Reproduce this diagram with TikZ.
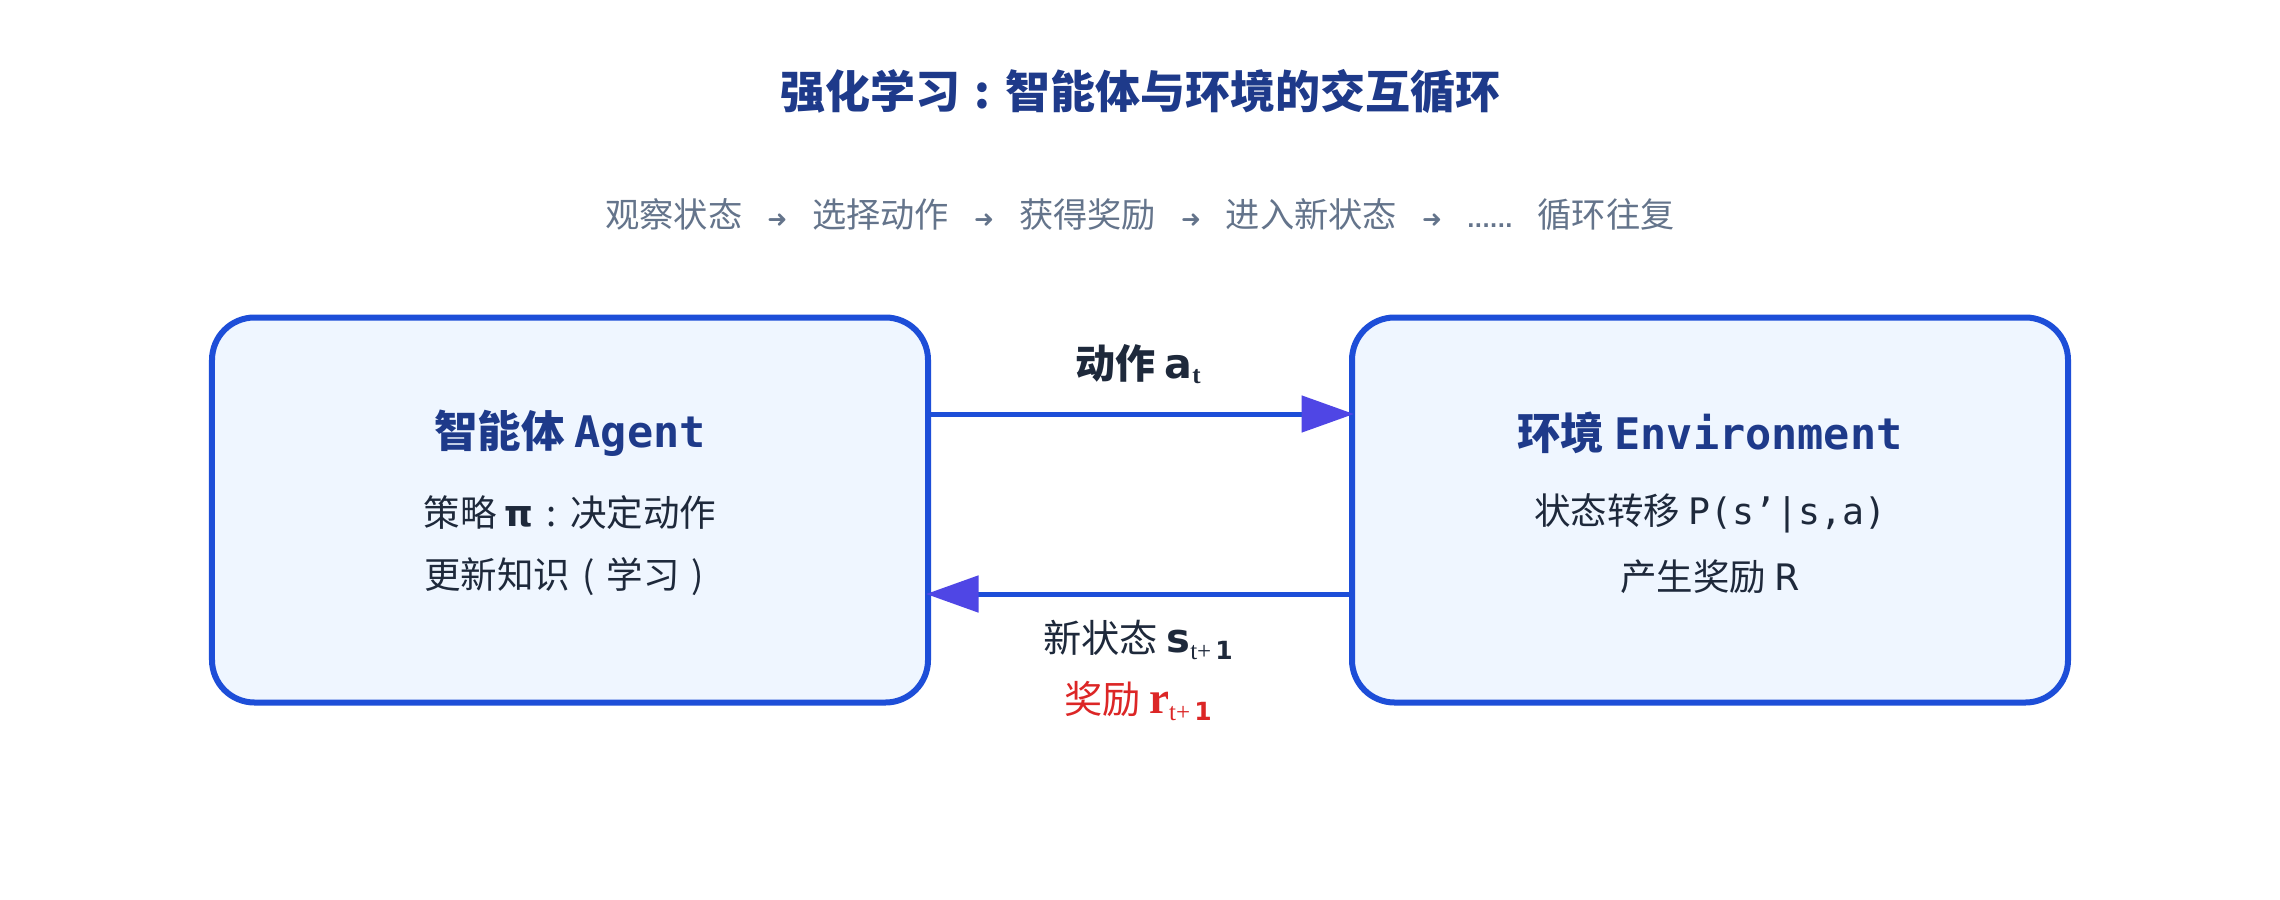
\documentclass[tikz,border=0pt]{standalone}
\usepackage{fontspec}
\setmainfont{Noto Sans CJK SC}
\newfontfamily\monof{DejaVu Sans Mono}
\newfontfamily\djv{DejaVu Sans}
\newfontfamily\serf{Liberation Serif}
\usetikzlibrary{arrows.meta}
\definecolor{boxblue}{HTML}{1D4ED8}
\definecolor{boxfill}{HTML}{EFF6FF}
\definecolor{arrind}{HTML}{4F46E5}
\definecolor{titlec}{HTML}{1E3A8A}
\definecolor{subc}{HTML}{64748B}
\definecolor{bodyc}{HTML}{1E293B}
\definecolor{redc}{HTML}{DC2626}
\newcommand{\sarr}{\hspace{10pt}{\djv\bfseries\fontsize{9.5pt}{9pt}\selectfont ➜}\hspace{10pt}}
\newcommand{\ccolon}{\makebox[1em][c]{:}}
\newcommand{\cpl}{\makebox[1em][c]{(}}
\newcommand{\cpr}{\makebox[1em][c]{)}}
\tikzset{
  mainbox/.style={draw=boxblue, fill=boxfill, line width=2.4pt, rounded corners=17pt,
    minimum width=286.4pt, minimum height=154pt, inner sep=0pt},
  boxtitle/.style={text=titlec, font=\fontsize{17.4pt}{20pt}\selectfont\bfseries, inner sep=0pt},
  bodytxt/.style={text=bodyc, font=\fontsize{14.6pt}{17pt}\selectfont, inner sep=0pt},
  lbl/.style={text=bodyc, font=\fontsize{15.3pt}{18pt}\selectfont, inner sep=0pt},
  flow/.style={draw=boxblue, line width=2pt, -{Triangle[length=21pt,width=14.4pt,color=arrind]}}
}
\begin{document}
\begin{tikzpicture}[x=0.4pt,y=-0.4pt]
\useasboundingbox (0,0) rectangle (2280,900);
\fill[white] (0,0) rectangle (2280,900);

\node[text=titlec, font=\fontsize{18pt}{22pt}\selectfont\bfseries, inner sep=0pt] (title) at (1140,92) {强化学习\ccolon 智能体与环境的交互循环};

\node[text=subc, font=\fontsize{13.7pt}{16pt}\selectfont, inner sep=0pt] (sub) at (1140,215)
  {观察状态\sarr 选择动作\sarr 获得奖励\sarr 进入新状态\sarr{\djv\bfseries\fontsize{8pt}{9pt}\selectfont ......}\hspace{10pt}循环往复};

\node[mainbox] (agent) at (570,510) {};
\node[mainbox] (env) at (1710,510) {};

\node[boxtitle] (agt) at (570,433) {智能体 {\monof\bfseries Agent}};
\node[bodytxt] (ag1) at (570,513) {策略 {\djv\bfseries π}\ccolon 决定动作};
\node[bodytxt] (ag2) at (570,577) {更新知识\cpl 学习\cpr};

\node[boxtitle] (ent) at (1710,433) {环境 {\monof\bfseries Environment}};
\node[bodytxt] (en1) at (1710,513) {状态转移 {\monof P(s’|s,a)}};
\node[bodytxt] (en2) at (1710,577) {产生奖励 {\djv R}};

\coordinate (ya) at (0,414);
\coordinate (yb) at (0,594);
\draw[flow, shorten >=-2pt] (agent.east |- ya) -- (env.west |- ya);
\draw[flow, shorten >=-2pt] (env.west |- yb) -- (agent.east |- yb);

\node[lbl, font=\fontsize{16pt}{18pt}\selectfont\bfseries] (la) at (1138,364)
  {动作 {\djv\bfseries\fontsize{16.5pt}{18pt}\selectfont a}{\serf\fontsize{10pt}{9pt}\selectfont\raisebox{-2pt}{t}}};
\node[lbl] (ls) at (1138,640)
  {新状态 {\djv\bfseries\fontsize{16pt}{18pt}\selectfont s}{\fontsize{10pt}{9pt}\selectfont\raisebox{-3pt}{{\serf t+}\,{\djv\bfseries 1}}}};
\node[lbl, text=redc] (lr) at (1138,701)
  {奖励 {\serf\bfseries\fontsize{18pt}{18pt}\selectfont r}{\fontsize{10pt}{9pt}\selectfont\raisebox{-3pt}{{\serf t+}\,{\djv\bfseries 1}}}};
\end{tikzpicture}
\end{document}
